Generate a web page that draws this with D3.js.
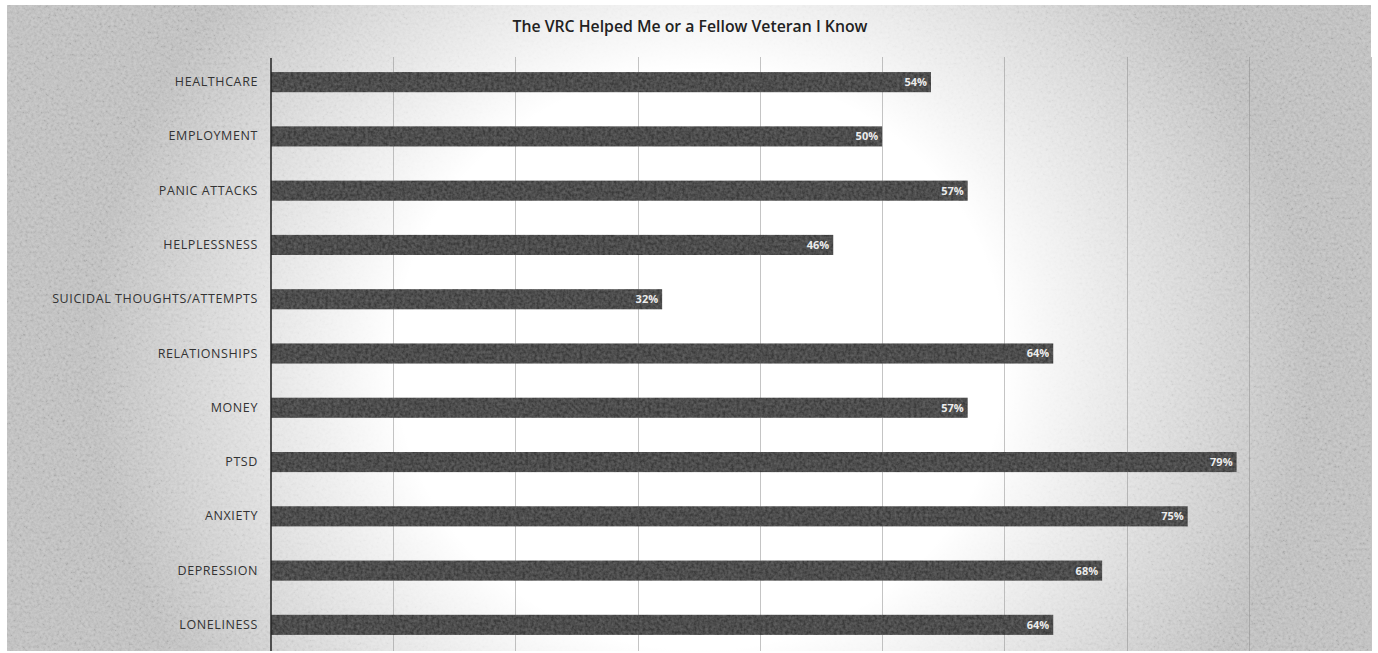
<!DOCTYPE html>
<html>
<head>
<meta charset="utf-8">
<script src="https://cdn.jsdelivr.net/npm/d3@7"></script>
<style>
  html, body { margin: 0; padding: 0; background: #ffffff; }
  svg { display: block; }
</style>
</head>
<body>
<svg id="chart" width="1378" height="653"></svg>
<script>
// Survey results: share of respondents who said the VRC helped with each issue
const titleText = "The VRC Helped Me or a Fellow Veteran I Know";
const categories = [
  "HEALTHCARE", "EMPLOYMENT", "PANIC ATTACKS", "HELPLESSNESS",
  "SUICIDAL THOUGHTS/ATTEMPTS", "RELATIONSHIPS", "MONEY", "PTSD",
  "ANXIETY", "DEPRESSION", "LONELINESS"
];
const values = [54, 50, 57, 46, 32, 64, 57, 79, 75, 68, 64];
const gridTicks = [0, 10, 20, 30, 40, 50, 60, 70, 80, 90];

const W = 1378, H = 653;
const svg = d3.select("#chart");
const defs = svg.append("defs");

// paper grain
const grain = defs.append("filter").attr("id", "grain")
  .attr("x", 0).attr("y", 0).attr("width", "100%").attr("height", "100%");
grain.append("feTurbulence").attr("type", "fractalNoise")
  .attr("baseFrequency", "0.35").attr("numOctaves", 3).attr("seed", 7).attr("result", "n");
grain.append("feColorMatrix").attr("in", "n").attr("type", "matrix")
  .attr("values", "1.6 0 0 0 -0.3  1.6 0 0 0 -0.3  1.6 0 0 0 -0.3  0 0 0 0 0.12");

// bar grain
const barGrain = defs.append("filter").attr("id", "barGrain")
  .attr("x", 0).attr("y", 0).attr("width", "100%").attr("height", "100%");
barGrain.append("feTurbulence").attr("type", "fractalNoise")
  .attr("baseFrequency", "0.35").attr("numOctaves", 2).attr("seed", 3).attr("result", "n");
barGrain.append("feColorMatrix").attr("in", "n").attr("type", "matrix")
  .attr("values", "1.4 0 0 0 -0.35  1.4 0 0 0 -0.35  1.4 0 0 0 -0.35  0 0 0 0 0.09")
  .attr("result", "g");
barGrain.append("feComposite").attr("in", "g").attr("in2", "SourceGraphic")
  .attr("operator", "in").attr("result", "gc");
const bm = barGrain.append("feMerge");
bm.append("feMergeNode").attr("in", "SourceGraphic");
bm.append("feMergeNode").attr("in", "gc");

// bright centre glow
const glow = defs.append("radialGradient").attr("id", "glow")
  .attr("gradientUnits", "userSpaceOnUse")
  .attr("cx", 700).attr("cy", 360).attr("r", 580)
  .attr("gradientTransform", "translate(700,360) scale(1.05,1) translate(-700,-360)");
glow.append("stop").attr("offset", "0").attr("stop-color", "#ffffff").attr("stop-opacity", 1);
glow.append("stop").attr("offset", "0.5").attr("stop-color", "#ffffff").attr("stop-opacity", 1);
glow.append("stop").attr("offset", "0.75").attr("stop-color", "#ffffff").attr("stop-opacity", 0.5);
glow.append("stop").attr("offset", "1").attr("stop-color", "#ffffff").attr("stop-opacity", 0);

// page
const page = { x: 7, y: 5, w: 1364, h: 646 };
svg.append("rect").attr("x", page.x).attr("y", page.y).attr("width", page.w).attr("height", page.h)
  .attr("fill", "#c4c4c4");
svg.append("rect").attr("x", page.x).attr("y", page.y).attr("width", page.w).attr("height", page.h)
  .attr("filter", "url(#grain)");
svg.append("rect").attr("x", page.x).attr("y", page.y).attr("width", page.w).attr("height", page.h)
  .attr("fill", "url(#glow)");

// scales
const x = d3.scaleLinear().domain([0, 90]).range([271, 1371]);
const y = d3.scaleBand().domain(categories).range([55, 652]).paddingInner(0.63).paddingOuter(0.315);

// vertical grid
svg.append("g").selectAll("line").data(gridTicks.slice(1)).join("line")
  .attr("x1", d => Math.round(x(d)) + 0.5).attr("x2", d => Math.round(x(d)) + 0.5)
  .attr("y1", 57).attr("y2", 651)
  .attr("stroke", "#8a8a8a").attr("stroke-opacity", 0.5).attr("stroke-width", 1);

// bars
svg.append("g").attr("filter", "url(#barGrain)")
  .selectAll("rect").data(categories).join("rect")
  .attr("x", x(0)).attr("y", d => y(d))
  .attr("width", (d, i) => x(values[i]) - x(0))
  .attr("height", y.bandwidth())
  .attr("fill", "#3f3f3f");

// value labels inside bar ends
svg.append("g").selectAll("text").data(categories).join("text")
  .attr("x", (d, i) => x(values[i]) - 4)
  .attr("y", d => y(d) + y.bandwidth() / 2)
  .attr("dy", "0.36em")
  .attr("text-anchor", "end")
  .attr("font-family", "'Open Sans', sans-serif")
  .attr("font-weight", 700)
  .attr("font-size", 11)
  .attr("fill", "#ececec")
  .text((d, i) => values[i] + "%");

// category axis
const yAxis = d3.axisLeft(y).tickSize(0).tickPadding(13);
const ag = svg.append("g").attr("transform", "translate(271,0)").call(yAxis);
ag.select(".domain").remove();
ag.append("line").attr("x1", 0).attr("x2", 0).attr("y1", 58).attr("y2", 651)
  .attr("stroke", "#222").attr("stroke-width", 1.5);
ag.selectAll(".tick text")
  .attr("font-family", "'Open Sans', sans-serif")
  .attr("font-size", 12.5)
  .attr("letter-spacing", 0.6)
  .attr("fill", "#333");

// title
svg.append("text").attr("x", 690).attr("y", 32)
  .attr("text-anchor", "middle")
  .attr("font-family", "'Open Sans', sans-serif")
  .attr("font-weight", 600)
  .attr("font-size", 15.8)
  .attr("fill", "#222")
  .text(titleText);
</script>
</body>
</html>
